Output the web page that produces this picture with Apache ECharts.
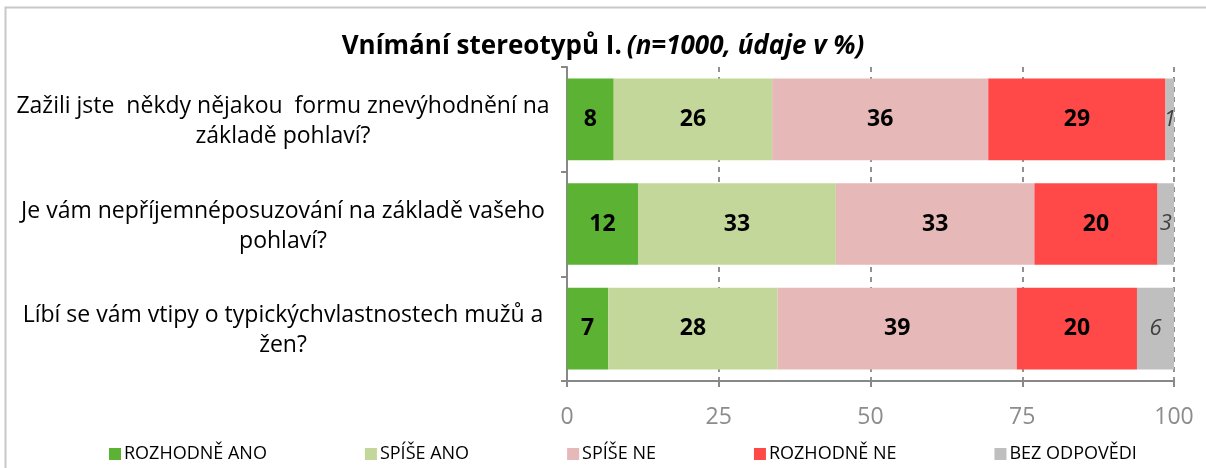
<!DOCTYPE html>
<html>
<head>
<meta charset="utf-8"/>
<title>Vnímání stereotypů I.</title>
<script src="https://cdn.jsdelivr.net/npm/echarts@6/dist/echarts.min.js"></script>
<style>
  html, body { margin: 0; padding: 0; background: #fff; }
  #main { width: 1206px; height: 468px; }
</style>
</head>
<body>
<div id="main"></div>
<script type="text/javascript">
var otazky = [
  'Zažili jste  někdy nějakou  formu znevýhodnění na\nzákladě pohlaví?',
  'Je vám nepříjemnéposuzování na základě vašeho\npohlaví?',
  'Líbí se vám vtipy o typickýchvlastnostech mužů a\nžen?'
];
var odpovedi = ['ROZHODNĚ ANO', 'SPÍŠE ANO', 'SPÍŠE NE', 'ROZHODNĚ NE', 'BEZ ODPOVĚDI'];
var barvy = ['#5cb233', '#c4d79b', '#e6b8b7', '#ff4848', '#bfbfbf'];
// procenta (popisky jsou zaokrouhlene)
var rozhodneAno = [7.7, 11.7, 6.8];
var spiseAno = [26.1, 32.6, 27.9];
var spiseNe = [35.6, 32.7, 39.4];
var rozhodneNe = [29.2, 20.3, 19.8];
var bezOdpovedi = [1.4, 2.7, 6.1];
var osaX = [0, 25, 50, 75, 100];

var font = '"Open Sans", sans-serif';
var hodnoty = [rozhodneAno, spiseAno, spiseNe, rozhodneNe, bezOdpovedi];

var series = [];
for (var i = 0; i < hodnoty.length; i++) {
  var posledni = (i === hodnoty.length - 1);
  series.push({
    name: odpovedi[i],
    type: 'bar',
    stack: 'celkem',
    barCategoryGap: '22%',
    itemStyle: { color: barvy[i] },
    label: {
      show: true,
      position: 'inside',
      color: posledni ? '#404040' : '#000',
      fontFamily: font,
      fontSize: posledni ? 22 : 23,
      fontWeight: posledni ? 'normal' : 'bold',
      fontStyle: posledni ? 'italic' : 'normal',
      formatter: function (p) { return Math.round(p.value); }
    },
    data: hodnoty[i]
  });
}

var myChart = echarts.init(document.getElementById('main'));
var option = {
  animation: false,
  graphic: [{
    type: 'rect', silent: true, z: -1,
    shape: { x: 5.5, y: 7.5, width: 1240, height: 500 },
    style: { fill: 'none', stroke: '#c8c8c8', lineWidth: 2 }
  }],
  title: {
    left: 'center',
    top: 29,
    text: '{b|Vnímání stereotypů I.} {i|(n=1000, údaje v %)}',
    textStyle: {
      rich: {
        b: { fontFamily: font, fontSize: 26, fontWeight: 'bold', color: '#000' },
        i: { fontFamily: font, fontSize: 26, fontStyle: 'italic', color: '#000' }
      }
    }
  },
  legend: {
    top: 440,
    left: 104,
    itemGap: 98,
    itemWidth: 12,
    itemHeight: 12,
    icon: 'rect',
    data: odpovedi,
    textStyle: { fontFamily: font, fontSize: 18, color: '#000', padding: [0, 0, 0, -2] }
  },
  grid: { left: 567, right: 32, top: 67, bottom: 87 },
  xAxis: {
    type: 'value',
    min: 0, max: 100, interval: 25,
    axisLine: { show: true, lineStyle: { color: '#888', width: 2 } },
    axisTick: { show: true, length: 6, lineStyle: { color: '#888', width: 2 } },
    axisLabel: {
      fontFamily: font, fontSize: 23, color: '#8c8c8c', margin: 25,
      formatter: function (v) { return osaX.indexOf(v) >= 0 ? String(v) : ''; }
    },
    splitLine: { show: true, lineStyle: { color: '#6e6e6e', type: [5, 5], width: 1.5 } }
  },
  yAxis: {
    type: 'category',
    inverse: true,
    data: otazky,
    axisLine: { show: true, lineStyle: { color: '#888', width: 2 } },
    axisTick: { show: true, length: 6, lineStyle: { color: '#888', width: 2 } },
    axisLabel: {
      margin: 18,
      align: 'right',
      padding: [4, 0, 0, 0],
      formatter: function (v) {
        return v.split('\n').map(function (r) { return '{q|' + r + '}'; }).join('\n');
      },
      rich: {
        q: { width: 532, align: 'center', fontFamily: font, fontSize: 23, lineHeight: 30, color: '#000' }
      }
    }
  },
  series: series
};
myChart.setOption(option);
</script>
</body>
</html>
